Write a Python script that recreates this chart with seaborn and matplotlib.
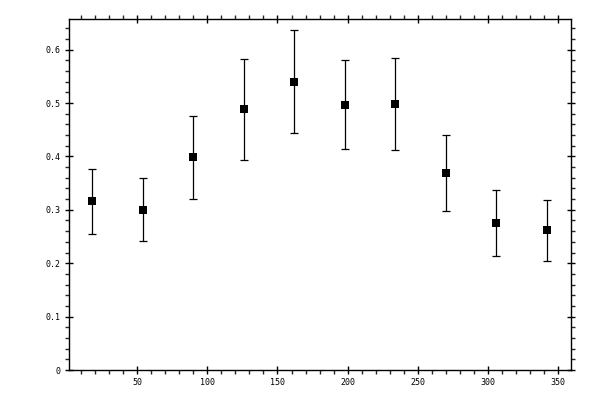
import matplotlib
matplotlib.use("Agg")
import matplotlib.pyplot as plt
import seaborn as sns
import pandas as pd
from matplotlib.ticker import MultipleLocator

# === Data ===
angle = [18, 54, 90, 126, 162, 198, 234, 270, 306, 342]
value = [0.316, 0.300, 0.398, 0.488, 0.540, 0.497, 0.498, 0.369, 0.275, 0.262]
error = [0.061, 0.059, 0.077, 0.095, 0.096, 0.084, 0.086, 0.071, 0.062, 0.057]

df = pd.DataFrame({"angle": angle, "value": value, "error": error})

sns.set_theme(style="ticks")
plt.rcParams["font.family"] = ["DejaVu Sans Mono", "DejaVu Sans"]

fig = plt.figure(figsize=(6, 4), dpi=100)
ax = fig.add_axes([0.1155, 0.075, 0.8355, 0.877])

ax.errorbar(df["angle"], df["value"], yerr=df["error"], fmt="none",
            ecolor="black", elinewidth=0.9, capsize=3, capthick=0.9, zorder=2)
sns.scatterplot(data=df, x="angle", y="value", marker="s", s=36,
                color="black", edgecolor="black", linewidth=0, ax=ax, zorder=3)

ax.set_xlim(1.7, 358.8)
ax.set_ylim(0, 0.657)
ax.xaxis.set_major_locator(MultipleLocator(50))
ax.xaxis.set_minor_locator(MultipleLocator(10))
ax.yaxis.set_major_locator(MultipleLocator(0.1))
ax.yaxis.set_minor_locator(MultipleLocator(0.02))
ax.yaxis.set_major_formatter(plt.FuncFormatter(lambda v, p: "0" if v == 0 else f"{v:.1f}"))

ax.set_xlabel("")
ax.set_ylabel("")
for side in ["top", "right", "bottom", "left"]:
    ax.spines[side].set_visible(True)
    ax.spines[side].set_linewidth(1.0)
    ax.spines[side].set_color("black")

ax.tick_params(which="major", direction="inout", length=6, width=1.0,
               top=True, right=True, labelsize=6, colors="black")
ax.tick_params(which="minor", direction="out", length=2.8, width=1.0,
               top=True, right=True)
ax.tick_params(axis="y", which="major", pad=3)
ax.tick_params(axis="x", which="major", pad=3)

fig.savefig("out.png", dpi=100, facecolor="white")
plt.close(fig)
